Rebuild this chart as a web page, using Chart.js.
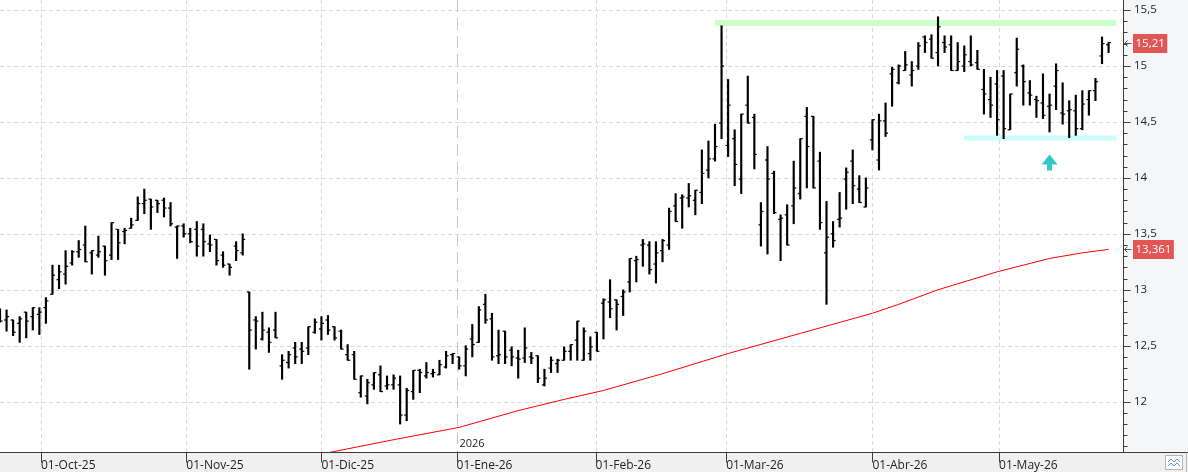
<!DOCTYPE html>
<html>
<head>
<meta charset="utf-8">
<title>OHLC diario</title>
<script src="https://cdn.jsdelivr.net/npm/chart.js@4.4.1/dist/chart.umd.min.js"></script>
<style>
  html, body { margin: 0; padding: 0; background: #f0f0f0; }
  #wrap { width: 1188px; height: 472px; }
</style>
</head>
<body>
<div id="wrap"><canvas id="chart" width="1188" height="472"></canvas></div>
<script>
// Daily OHLC bars, 23-Sep-25 .. 26-May-26 (one entry per session, index = x position)
const opens = [
  12.78, 12.73, 12.73, 12.70, 12.80, 12.76, 12.78, 12.84, 12.96, 13.09,
  13.14, 13.24, 13.34, 13.40, 13.33, 13.31, 13.39, 13.31, 13.54, 13.52,
  13.55, 13.62, 13.77, 13.81, 13.80, 13.80, 13.73, 13.56, 13.57, 13.50,
  13.54, 13.54, 13.41, 13.45, 13.31, 13.23, 13.39, 13.33, 12.98, 12.73,
  12.56, 12.62, 12.64, 12.32, 12.35, 12.48, 12.47, 12.48, 12.62, 12.65,
  12.73, 12.67, 12.63, 12.42, 12.42, 12.08, 12.05, 12.15, 12.24, 12.14,
  12.15, 12.15, 11.88, 12.09, 12.28, 12.23, 12.25, 12.24, 12.31, 12.42,
  12.40, 12.32, 12.56, 12.53, 12.87, 12.74, 12.41, 12.63, 12.46, 12.39,
  12.39, 12.40, 12.41, 12.15, 12.30, 12.34, 12.37, 12.45, 12.55, 12.37,
  12.43, 12.62, 12.88, 12.89, 12.91, 12.94, 13.07, 13.26, 13.40, 13.40,
  13.23, 13.35, 13.40, 13.75, 13.82, 13.82, 13.80, 13.87, 14.07, 14.17,
  14.49, 14.29, 14.35, 13.99, 14.65, 14.54, 13.58, 14.16, 14.04, 13.63,
  13.67, 13.75, 13.86, 14.55, 14.55, 14.15, 13.33, 13.50, 13.63, 13.99,
  14.15, 13.90, 13.74, 14.34, 14.16, 14.51, 14.93, 14.85, 14.96, 14.92,
  15.00, 15.26, 15.24, 15.12, 15.21, 15.19, 14.96, 15.00, 15.04, 15.03,
  14.79, 14.70, 14.84, 14.91, 14.43, 14.94, 15.00, 14.76, 14.70, 14.67,
  14.64, 14.82, 14.58, 14.60, 14.60, 14.44, 14.70, 14.78, 15.09, 15.19
];
const highs = [
  12.83, 12.82, 12.73, 12.76, 12.80, 12.84, 12.84, 12.93, 13.22, 13.22,
  13.35, 13.35, 13.44, 13.57, 13.35, 13.48, 13.39, 13.60, 13.54, 13.55,
  13.64, 13.83, 13.90, 13.81, 13.80, 13.82, 13.78, 13.57, 13.59, 13.55,
  13.61, 13.59, 13.49, 13.45, 13.34, 13.23, 13.43, 13.50, 12.98, 12.76,
  12.80, 12.66, 12.80, 12.42, 12.45, 12.53, 12.53, 12.67, 12.74, 12.76,
  12.77, 12.67, 12.64, 12.51, 12.45, 12.23, 12.20, 12.26, 12.32, 12.23,
  12.24, 12.23, 12.12, 12.28, 12.29, 12.35, 12.29, 12.37, 12.45, 12.43,
  12.40, 12.50, 12.69, 12.85, 12.96, 12.79, 12.64, 12.63, 12.49, 12.46,
  12.66, 12.44, 12.41, 12.29, 12.40, 12.38, 12.49, 12.51, 12.72, 12.66,
  12.58, 12.62, 12.92, 13.09, 12.91, 13.00, 13.28, 13.30, 13.45, 13.43,
  13.43, 13.45, 13.73, 13.86, 13.85, 13.95, 13.89, 14.25, 14.33, 14.48,
  15.36, 14.88, 14.43, 14.57, 14.91, 14.57, 13.78, 14.28, 14.06, 13.67,
  13.76, 14.15, 14.35, 14.63, 14.55, 14.23, 13.79, 13.61, 13.87, 14.09,
  14.25, 14.02, 14.00, 14.52, 14.57, 14.67, 14.99, 15.01, 15.13, 15.04,
  15.21, 15.27, 15.28, 15.44, 15.27, 15.27, 15.21, 15.18, 15.27, 15.14,
  14.97, 14.90, 14.96, 14.96, 14.75, 15.25, 15.01, 14.87, 14.73, 14.93,
  14.75, 15.02, 14.85, 14.69, 14.74, 14.78, 14.78, 14.89, 15.26, 15.21
];
const lows = [
  12.71, 12.63, 12.59, 12.53, 12.57, 12.64, 12.60, 12.70, 12.96, 13.01,
  13.05, 13.22, 13.29, 13.25, 13.14, 13.29, 13.13, 13.27, 13.27, 13.41,
  13.55, 13.62, 13.68, 13.54, 13.69, 13.65, 13.57, 13.28, 13.47, 13.42,
  13.30, 13.30, 13.34, 13.22, 13.20, 13.13, 13.26, 13.31, 12.29, 12.47,
  12.55, 12.44, 12.57, 12.20, 12.30, 12.34, 12.34, 12.42, 12.61, 12.55,
  12.60, 12.55, 12.47, 12.37, 12.20, 12.04, 11.98, 12.11, 12.09, 12.11,
  12.11, 11.80, 11.83, 12.02, 12.08, 12.21, 12.22, 12.24, 12.30, 12.34,
  12.29, 12.23, 12.40, 12.53, 12.70, 12.37, 12.34, 12.34, 12.32, 12.21,
  12.35, 12.34, 12.17, 12.14, 12.26, 12.26, 12.37, 12.37, 12.37, 12.37,
  12.37, 12.45, 12.56, 12.75, 12.64, 12.77, 12.98, 13.07, 13.21, 13.14,
  13.06, 13.25, 13.36, 13.61, 13.55, 13.74, 13.67, 13.77, 14.00, 14.15,
  14.35, 14.19, 13.93, 13.86, 14.49, 14.08, 13.39, 13.32, 13.68, 13.26,
  13.40, 13.59, 13.81, 13.91, 13.91, 13.54, 12.87, 13.38, 13.56, 13.72,
  13.77, 13.78, 13.74, 14.25, 14.07, 14.37, 14.64, 14.84, 14.96, 14.82,
  14.97, 15.12, 15.07, 15.00, 15.12, 14.96, 14.96, 14.95, 15.00, 14.97,
  14.57, 14.54, 14.38, 14.35, 14.43, 14.82, 14.65, 14.65, 14.54, 14.53,
  14.41, 14.61, 14.48, 14.36, 14.38, 14.43, 14.56, 14.69, 15.02, 15.12
];
const closes = [
  12.72, 12.76, 12.62, 12.74, 12.72, 12.84, 12.80, 12.90, 13.13, 13.16,
  13.21, 13.34, 13.36, 13.25, 13.35, 13.34, 13.26, 13.60, 13.42, 13.53,
  13.58, 13.77, 13.80, 13.74, 13.77, 13.73, 13.59, 13.57, 13.50, 13.43,
  13.39, 13.43, 13.40, 13.26, 13.22, 13.20, 13.35, 13.45, 12.64, 12.72,
  12.64, 12.53, 12.57, 12.37, 12.42, 12.40, 12.45, 12.67, 12.71, 12.70,
  12.64, 12.57, 12.47, 12.37, 12.20, 12.23, 12.17, 12.26, 12.09, 12.15,
  12.21, 11.88, 12.10, 12.28, 12.26, 12.26, 12.26, 12.33, 12.41, 12.43,
  12.32, 12.47, 12.51, 12.82, 12.73, 12.40, 12.42, 12.40, 12.40, 12.38,
  12.48, 12.39, 12.21, 12.21, 12.37, 12.37, 12.45, 12.51, 12.72, 12.63,
  12.49, 12.45, 12.91, 12.83, 12.87, 12.98, 13.28, 13.27, 13.41, 13.18,
  13.33, 13.44, 13.70, 13.61, 13.83, 13.84, 13.89, 14.04, 14.17, 14.28,
  15.00, 14.65, 14.12, 14.57, 14.49, 14.21, 13.70, 13.99, 13.69, 13.64,
  13.40, 13.91, 14.35, 14.28, 13.91, 13.60, 13.47, 13.44, 13.64, 14.05,
  13.93, 13.78, 13.91, 14.52, 14.51, 14.40, 14.97, 15.00, 15.01, 14.96,
  15.18, 15.21, 15.07, 15.35, 15.17, 14.96, 15.04, 15.10, 15.01, 14.97,
  14.75, 14.65, 14.52, 14.44, 14.75, 15.15, 14.86, 14.74, 14.69, 14.56,
  14.65, 14.96, 14.57, 14.61, 14.44, 14.66, 14.78, 14.86, 15.20, 15.21
];

// Moving average (red), read at a few sessions off the picture
const smaIndex = [48, 60, 70, 79, 86, 92, 101, 111, 122, 133, 137, 143, 152, 160, 165, 169];
const smaValue = [11.52, 11.66, 11.77, 11.92, 12.02, 12.10, 12.25, 12.43, 12.61, 12.79, 12.87, 13.00, 13.16, 13.28, 13.33, 13.361];

// Horizontal levels drawn on the chart
const resistanceLevel = 15.384;
const resistanceSpan = [109, 170.2];
const supportLevel = 14.356;
const supportSpan = [147, 170.2];
const signalIndex = 160;      // cyan arrow
const signalLevel = 14.21;

// X axis: month starts (session index) and labels
const monthTicks = [6.25, 28.4, 49, 69.6, 90.8, 110.7, 133, 152.3];
const monthLabels = ['01-Oct-25', '01-Nov-25', '01-Dic-25', '01-Ene-26', '01-Feb-26', '01-Mar-26', '01-Abr-26', '01-May-26'];
const yearTick = 3;           // 01-Ene-26 starts 2026
const yearLabel = '2026';

const fmt = v => String(Math.round(v * 1000) / 1000).replace('.', ',');

Chart.defaults.font.family = "'Open Sans', 'Noto Sans', 'DejaVu Sans', sans-serif";
Chart.defaults.color = '#1e1e1e';

// Backgrounds, dashed grid, axis lines, tick marks, price tags, arrow
const framePlugin = {
  id: 'frame',
  beforeDraw(chart) {
    const {ctx, chartArea: a, width, height} = chart;
    ctx.save();
    ctx.fillStyle = '#f0f0f0';
    ctx.fillRect(0, 0, width, height);
    ctx.fillStyle = '#f5f6f8';
    ctx.fillRect(a.right, 0, width - a.right, a.bottom);
    ctx.fillStyle = '#ffffff';
    ctx.fillRect(a.left, a.top, a.right - a.left, a.bottom - a.top);
    ctx.restore();
  },
  beforeDatasetsDraw(chart) {
    const {ctx, chartArea: a, scales: {x, y}} = chart;
    ctx.save();
    ctx.lineWidth = 1;
    ctx.strokeStyle = '#dadada';
    ctx.setLineDash([4, 3]);
    for (let k = 24; k <= 31; k++) {
      const py = Math.round(y.getPixelForValue(k / 2)) + 0.5;
      ctx.beginPath(); ctx.moveTo(a.left, py); ctx.lineTo(a.right, py); ctx.stroke();
    }
    monthTicks.forEach((t, i) => {
      if (i === yearTick) return;
      const px = Math.round(x.getPixelForValue(t)) + 0.5;
      ctx.beginPath(); ctx.moveTo(px, a.top); ctx.lineTo(px, a.bottom); ctx.stroke();
    });
    // year separator
    const yx = Math.round(x.getPixelForValue(monthTicks[yearTick])) + 0.5;
    ctx.strokeStyle = '#c8c8c8';
    ctx.setLineDash([12, 6]);
    ctx.beginPath(); ctx.moveTo(yx, a.top); ctx.lineTo(yx, a.bottom); ctx.stroke();
    ctx.setLineDash([]);
    ctx.fillStyle = '#222';
    ctx.font = "11px 'Open Sans', sans-serif";
    ctx.textBaseline = 'alphabetic';
    ctx.fillText(yearLabel, yx + 2, a.bottom - 5);
    ctx.restore();
  },
  afterDatasetsDraw(chart) {
    const {ctx, scales: {x, y}} = chart;
    // cyan up arrow
    const cx = x.getPixelForValue(signalIndex);
    const top = y.getPixelForValue(signalLevel);
    ctx.save();
    ctx.fillStyle = '#34c8c8';
    ctx.beginPath();
    ctx.moveTo(cx, top);
    ctx.lineTo(cx + 8, top + 10);
    ctx.lineTo(cx + 2.5, top + 10);
    ctx.lineTo(cx + 2.5, top + 16);
    ctx.lineTo(cx - 2.5, top + 16);
    ctx.lineTo(cx - 2.5, top + 10);
    ctx.lineTo(cx - 8, top + 10);
    ctx.closePath();
    ctx.fill();
    ctx.restore();
  },
  afterDraw(chart) {
    const {ctx, chartArea: a, width, height, scales: {x, y}} = chart;
    ctx.save();
    ctx.strokeStyle = '#3c3c3c';
    ctx.lineWidth = 1;
    // axis lines
    const ax = Math.round(a.right) + 0.5;
    const ay = Math.round(a.bottom) + 0.5;
    ctx.beginPath(); ctx.moveTo(ax, 0); ctx.lineTo(ax, ay); ctx.stroke();
    ctx.beginPath(); ctx.moveTo(0, ay); ctx.lineTo(width, ay); ctx.stroke();
    // y tick marks every 0.1
    for (let k = 116; k <= 155; k++) {
      const py = Math.round(y.getPixelForValue(k / 10)) + 0.5;
      const len = k % 5 === 0 ? 7 : 4;
      ctx.beginPath(); ctx.moveTo(ax, py); ctx.lineTo(ax + len, py); ctx.stroke();
    }
    // x tick marks
    monthTicks.forEach(t => {
      const px = Math.round(x.getPixelForValue(t)) + 0.5;
      ctx.beginPath(); ctx.moveTo(px, ay); ctx.lineTo(px, ay + 10); ctx.stroke();
    });
    // price tags
    const tags = [closes[closes.length - 1], smaValue[smaValue.length - 1]];
    ctx.font = "11.5px 'Open Sans', sans-serif";
    ctx.textBaseline = 'middle';
    tags.forEach(v => {
      const py = Math.round(y.getPixelForValue(v));
      const txt = fmt(v);
      const w = ctx.measureText(txt).width + 5;
      ctx.fillStyle = '#e35656';
      ctx.fillRect(ax + 9.5, py - 9, w, 19);
      ctx.fillStyle = '#ffffff';
      ctx.fillText(txt, ax + 12, py + 1);
      // small arrow pointing at the axis
      ctx.strokeStyle = '#555';
      ctx.beginPath();
      ctx.moveTo(ax + 8, py + 0.5); ctx.lineTo(ax + 1, py + 0.5);
      ctx.moveTo(ax + 4, py - 2.5); ctx.lineTo(ax + 1, py + 0.5); ctx.lineTo(ax + 4, py + 3.5);
      ctx.stroke();
    });
    // corner button
    ctx.fillStyle = '#ffffff';
    ctx.strokeStyle = '#b5b5b5';
    ctx.fillRect(1165.5, 455.5, 17, 14);
    ctx.strokeRect(1165.5, 455.5, 17, 14);
    ctx.strokeStyle = '#5b9bd8';
    ctx.beginPath();
    ctx.moveTo(1168, 462); ctx.lineTo(1171, 459); ctx.lineTo(1174, 462); ctx.lineTo(1177, 459); ctx.lineTo(1180, 462);
    ctx.moveTo(1168, 466); ctx.lineTo(1171, 463); ctx.lineTo(1174, 466); ctx.lineTo(1177, 463); ctx.lineTo(1180, 466);
    ctx.stroke();
    ctx.strokeStyle = '#bcbcbc';
    ctx.beginPath(); ctx.moveTo(1186.5, ay); ctx.lineTo(1186.5, height); ctx.stroke();
    ctx.restore();
  }
};

const idx = highs.map((_, i) => i);

new Chart(document.getElementById('chart'), {
  type: 'bar',
  data: {
    datasets: [
      {
        type: 'line',
        label: 'Resistencia',
        data: resistanceSpan.map(i => ({x: i, y: resistanceLevel})),
        borderColor: '#ccffcc',
        borderWidth: 6,
        pointRadius: 0,
        order: 10
      },
      {
        type: 'line',
        label: 'Soporte',
        data: supportSpan.map(i => ({x: i, y: supportLevel})),
        borderColor: '#ccfcfd',
        borderWidth: 5,
        pointRadius: 0,
        order: 10
      },
      {
        type: 'line',
        label: 'Media',
        data: smaIndex.map((i, k) => ({x: i, y: smaValue[k]})),
        borderColor: '#ff0000',
        borderWidth: 1,
        pointRadius: 0,
        tension: 0,
        order: 5
      },
      {
        type: 'bar',
        label: 'Rango',
        data: idx.map(i => ({x: i, y: [lows[i], highs[i]]})),
        backgroundColor: '#000000',
        barThickness: 1.5,
        order: 1
      },
      {
        type: 'line',
        label: 'Apertura',
        data: idx.map(i => ({x: i, y: opens[i]})),
        showLine: false,
        pointStyle: 'dash',
        pointRotation: 180,
        pointRadius: 2.5,
        pointBorderWidth: 1.2,
        pointBorderColor: '#000000',
        order: 0
      },
      {
        type: 'line',
        label: 'Cierre',
        data: idx.map(i => ({x: i, y: closes[i]})),
        showLine: false,
        pointStyle: 'dash',
        pointRotation: 0,
        pointRadius: 2.5,
        pointBorderWidth: 1.2,
        pointBorderColor: '#000000',
        order: 0
      }
    ]
  },
  options: {
    responsive: false,
    animation: false,
    events: [],
    layout: { padding: 0, autoPadding: false },
    plugins: {
      legend: { display: false },
      tooltip: { enabled: false }
    },
    scales: {
      x: {
        type: 'linear',
        min: 0,
        max: 171.2,
        offset: false,
        grid: { display: false },
        border: { display: false },
        afterBuildTicks: scale => { scale.ticks = monthTicks.map(v => ({value: v})); },
        afterFit: scale => {
          scale.height = 20;
          scale.paddingLeft = 0;
          scale.paddingRight = 0;
        },
        ticks: {
          align: 'start',
          autoSkip: false,
          maxRotation: 0,
          minRotation: 0,
          padding: -2,
          font: { size: 12 },
          color: '#1e1e1e',
          callback: (value) => {
            const k = monthTicks.indexOf(value);
            return k >= 0 ? monthLabels[k] : '';
          }
        }
      },
      y: {
        type: 'linear',
        position: 'right',
        min: 11.55,
        max: 15.59,
        grid: { display: false, drawTicks: false },
        border: { display: false },
        afterFit: scale => {
          scale.width = 65;
          scale.paddingTop = 0;
          scale.paddingBottom = 0;
        },
        ticks: {
          stepSize: 0.5,
          includeBounds: false,
          padding: 11,
          font: { size: 11.5 },
          color: '#1e1e1e',
          callback: v => fmt(v)
        }
      }
    }
  },
  plugins: [framePlugin]
});
</script>
</body>
</html>
